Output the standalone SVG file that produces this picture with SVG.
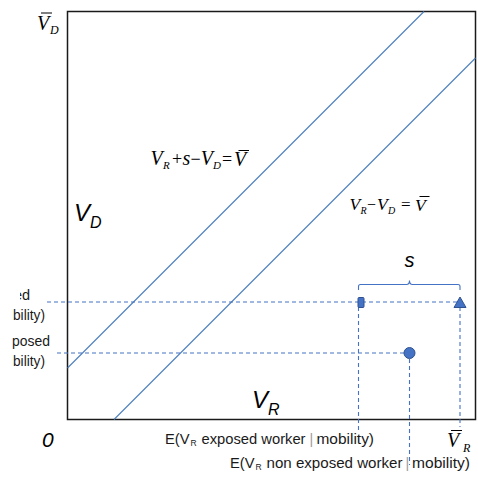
<svg xmlns="http://www.w3.org/2000/svg" width="478" height="489" viewBox="0 0 478 489">
<defs>
<style>
.m{font-family:"Liberation Serif","Times New Roman",serif;font-style:italic;fill:#000}
.mu{font-family:"Liberation Serif","Times New Roman",serif;fill:#000}
.s{font-family:"Liberation Sans",Arial,sans-serif;fill:#1a1a1a}
.si{font-family:"Liberation Sans",Arial,sans-serif;font-style:italic;fill:#000}
.pipe{fill:#9a9a9a}
.bar{stroke:#000;stroke-width:1}
.diag{stroke:#4A7EBB;stroke-width:1.1;fill:none}
.dash{stroke:#4472C4;stroke-width:1.1;stroke-dasharray:4 3;fill:none}
.mk{fill:#4472C4;stroke:#2F528F;stroke-width:1}
</style>
<clipPath id="clipL"><rect x="20" y="280" width="40" height="30"/></clipPath>
</defs>
<rect width="478" height="489" fill="#fff"/>
<g id="axes">
<rect x="67.5" y="11.5" width="408" height="408" fill="none" stroke="#1a1a1a" stroke-width="1.5"/>
</g>
<g id="connectors">
<line class="diag" x1="67.5" y1="368" x2="424" y2="11.5"/>
<line class="diag" x1="114" y1="419.5" x2="475.5" y2="58"/>
<line class="dash" x1="47" y1="302" x2="460" y2="302"/>
<line class="dash" x1="57" y1="353" x2="404" y2="353"/>
<line class="dash" x1="358.5" y1="307" x2="358.5" y2="430"/>
<line class="dash" x1="460" y1="307" x2="460" y2="427"/>
<line class="dash" x1="409.5" y1="359" x2="409.5" y2="465"/>
<path d="M358.5,290 V286.5 Q358.5,284.5 360.5,284.5 H406.5 Q409.5,284.5 409.5,280.5 Q409.5,284.5 412.5,284.5 H458 Q460,284.5 460,286.5 V290" fill="none" stroke="#4472C4" stroke-width="1.1"/>
</g>
<g id="point-exposed">
<rect class="mk" x="358" y="297.5" width="6" height="10" rx="1"/>
</g>
<g id="point-shifted">
<polygon class="mk" points="460,297 466,307.5 454,307.5"/>
</g>
<g id="point-nonexposed">
<circle class="mk" cx="409.5" cy="353" r="5.5"/>
</g>
<g id="label-VDbar">
<text class="m" x="37" y="29.5" font-size="20">V</text>
<line class="bar" x1="41" y1="13" x2="52" y2="13"/>
<text class="m" x="50" y="34" font-size="12">D</text>
</g>
<g id="label-VRbar">
<text class="m" x="447" y="447" font-size="20">V</text>
<line class="bar" x1="451" y1="430.5" x2="462" y2="430.5"/>
<text class="m" x="463" y="452" font-size="12">R</text>
</g>
<g id="label-zero">
<text class="si" x="42" y="447" font-size="21">0</text>
</g>
<g id="label-VD">
<text class="si" x="74" y="221" font-size="24">V</text>
<text class="si" x="90" y="228" font-size="16">D</text>
</g>
<g id="label-VR">
<text class="si" x="252" y="408" font-size="24">V</text>
<text class="si" x="268" y="415" font-size="16">R</text>
</g>
<g id="label-s">
<text class="si" x="409.5" y="267" font-size="20" text-anchor="middle">s</text>
</g>
<g id="eq1">
<text class="m" x="150.5" y="165" font-size="20">V</text>
<text class="m" x="163" y="169" font-size="11">R</text>
<text class="mu" x="172" y="165" font-size="18">+</text>
<text class="m" x="182.5" y="165" font-size="20">s</text>
<text class="mu" x="190.5" y="165" font-size="18">−</text>
<text class="m" x="200.8" y="165" font-size="20">V</text>
<text class="m" x="213" y="169" font-size="11">D</text>
<text class="mu" x="222" y="165" font-size="18">=</text>
<text class="m" x="234" y="166" font-size="20">V</text>
<line class="bar" x1="238.5" y1="150.5" x2="249" y2="150.5"/>
</g>
<g id="eq2">
<text class="m" x="349.5" y="210" font-size="17.5">V</text>
<text class="m" x="360.5" y="213.5" font-size="10">R</text>
<text class="mu" x="367" y="210" font-size="16">−</text>
<text class="m" x="377" y="210" font-size="17.5">V</text>
<text class="m" x="388" y="213.5" font-size="10">D</text>
<text class="mu" x="401" y="210" font-size="17">=</text>
<text class="m" x="415" y="211" font-size="17.5">V</text>
<line class="bar" x1="419.5" y1="196.5" x2="429.5" y2="196.5"/>
</g>
<g id="label-exposed">
<text class="s" x="165" y="444" font-size="14" textLength="24.5" lengthAdjust="spacingAndGlyphs">E(V</text>
<text class="s" x="190.5" y="446" font-size="8.5">R</text>
<text class="s" x="201.5" y="444" font-size="14" textLength="104" lengthAdjust="spacingAndGlyphs">exposed worker</text>
<text class="s pipe" x="309.5" y="444" font-size="14">|</text>
<text class="s" x="316.5" y="444" font-size="14" textLength="57.5" lengthAdjust="spacingAndGlyphs">mobility)</text>
</g>
<g id="label-nonexposed">
<text class="s" x="230" y="468" font-size="14" textLength="24.5" lengthAdjust="spacingAndGlyphs">E(V</text>
<text class="s" x="255.5" y="470" font-size="8.5">R</text>
<text class="s" x="266.5" y="468" font-size="14" textLength="136" lengthAdjust="spacingAndGlyphs">non exposed worker</text>
<text class="s pipe" x="405.5" y="468" font-size="14">|</text>
<text class="s" x="412" y="468" font-size="14" textLength="58" lengthAdjust="spacingAndGlyphs">mobility)</text>
</g>
<g id="label-left">
<text class="s" x="14" y="300" font-size="14.5" clip-path="url(#clipL)">ed</text>
<text class="s" x="13" y="320" font-size="14.5" textLength="32" lengthAdjust="spacingAndGlyphs">bility)</text>
<text class="s" x="12" y="345.5" font-size="14.5" textLength="38" lengthAdjust="spacingAndGlyphs">posed</text>
<text class="s" x="13" y="366" font-size="14.5" textLength="32" lengthAdjust="spacingAndGlyphs">bility)</text>
</g>
</svg>
